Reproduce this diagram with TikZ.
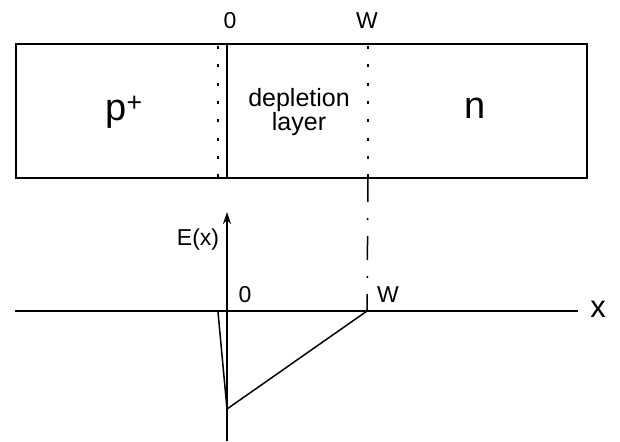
\documentclass[tikz,border=0pt]{standalone}
\usepackage{fontspec}
\setmainfont{Liberation Sans}
\usetikzlibrary{arrows.meta}
\begin{document}
\begin{tikzpicture}[x=1pt,y=-1pt,
  line width=1.5pt,
  big/.style={font=\fontsize{38}{40}\selectfont, inner sep=0pt},
  mid/.style={font=\fontsize{25}{27}\selectfont, inner sep=0pt, align=center},
  lbl/.style={font=\fontsize{23}{25}\selectfont, inner sep=0pt},
  dotline/.style={line width=1.5pt, dash pattern=on 3pt off 15.3pt},
  dashdot/.style={line width=1.5pt, dash pattern=on 24pt off 16pt on 2pt off 16pt},
  axis/.style={line width=1.5pt}]
\useasboundingbox (0,0) rectangle (620,441);
% box
\coordinate (bl) at (16,178);
\coordinate (tr) at (587,44);
\draw[line width=1.6pt] (16,44) rectangle (587,178);
% junction lines
\coordinate (jt) at (227,44);
\coordinate (jb) at (227,178);
\draw (jt) -- (jb);
\coordinate (pt) at (218,46);
\coordinate (pb) at (218,178);
\draw[dotline] (pt) -- (pb);
\coordinate (wt) at (368,46);
\coordinate (wb) at (368,178);
\draw[dotline] (wt) -- (wb);
% region labels
\node[big] (p) at (124,112) {p\textsuperscript{+}};
\node[big] (n) at (475,108) {n};
\node[mid] (dep) at (299,112) {depletion\\[-3pt]layer};
\node[lbl] (z0) at (230,21) {0};
\node[lbl] (w0) at (367,21) {W};
% lower axes
\coordinate (xl) at (15,311);
\coordinate (xr) at (578,311);
\draw[axis] (xl) -- (xr);
\node[font=\fontsize{31}{33}\selectfont, inner sep=0pt] (xlab) at (598,309) {x};
\coordinate (yb) at (227,441);
\coordinate (yt) at (227,212);
\draw[axis,-{Stealth[length=12pt,width=8pt]}] (yb) -- (yt);
\node[lbl] (Elab) at (198,240) {E(x)};
\node[lbl] (z1) at (245,295) {0};
\node[lbl] (w1) at (388,295) {W};
% dash-dot extension
\coordinate (wa) at (367,311);
\draw[dashdot] (wb) -- (wa);
% field
\coordinate (f0) at (218,312);
\coordinate (fm) at (227,409);
\draw[line width=1.5pt, line join=miter] (f0) -- (fm) -- (wa);
\end{tikzpicture}
\end{document}
